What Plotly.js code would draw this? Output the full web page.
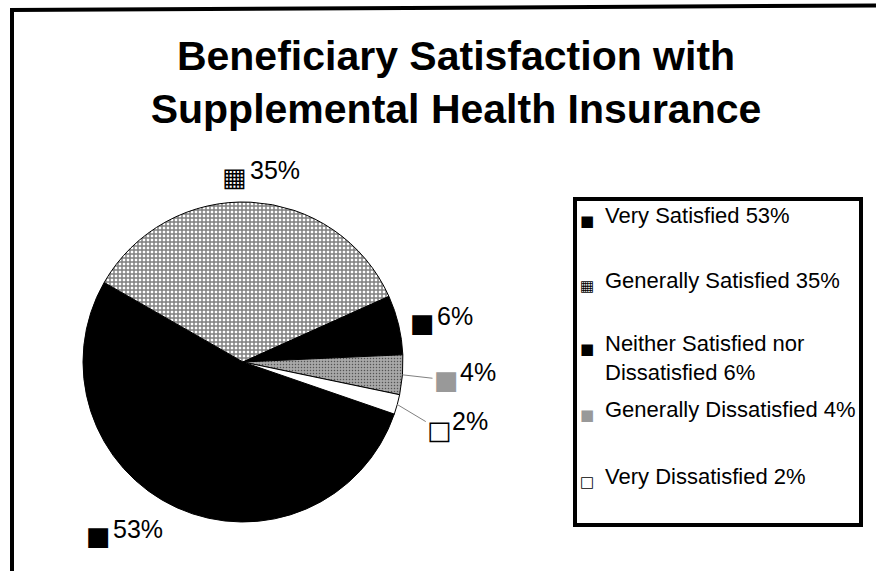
<!DOCTYPE html>
<html><head><meta charset="utf-8">
<script src="https://cdn.plot.ly/plotly-3.0.1.min.js"></script>
<style>html,body{margin:0;padding:0;background:#fff}#chart{width:876px;height:571px}</style>
</head><body><div id="chart"></div>
<script>
// ---- data ----
const categories = ['Very Satisfied', 'Generally Satisfied', 'Neither Satisfied nor Dissatisfied', 'Generally Dissatisfied', 'Very Dissatisfied'];
const values = [53, 35, 6, 4, 2];
const legendText = ['Very Satisfied 53%', 'Generally Satisfied 35%', 'Neither Satisfied nor<br>Dissatisfied 6%', 'Generally Dissatisfied 4%', 'Very Dissatisfied 2%'];
const keySymbols = ['\u25A0', '\u25A6', '\u25A0', '\u25A0', '\u25A1'];
const keyColors = ['#000000', '#000000', '#000000', '#999999', '#000000'];

// ---- styling / geometry ----
const W = 876, H = 571;
const CX = 243, CY = 362, R = 160;
const ROT = 109;
const FONT = '"Liberation Sans", Arial, sans-serif';
const SYMFONT = '"DejaVu Sans", sans-serif';
const sliceColors = ['#000000', '#ffffff', '#000000', '#a8a8a8', '#ffffff'];
const patternShapes = ['', '+', '', '.', ''];
// per-label: [symbol dx, symbol dy, text-left dx, baseline dy] relative to slice edge mid point
const labelPlace = [[-78, 28.5, -64, 29], [-16, -25, -1, -24], [24, -1.5, 38, -1], [44, 5, 57.5, 5], [42.5, 25.5, 55, 24.5]];
const leader = [false, false, false, true, true];
const LBL = 25, LSYM = 26, TXT = 22, TSYM = 15;
const legTextX = 605, legSymX = 587;
const legBase = [222, 287, 350, 416, 483];

const total = values.reduce((a, b) => a + b, 0);
let start = ROT; const mids = [];
values.forEach(v => { const span = v / total * 360; mids.push(start + span / 2); start += span; });

const annotations = [];
mids.forEach((a, i) => {
  const rad = a * Math.PI / 180;
  const px = CX + R * Math.sin(rad), py = CY - R * Math.cos(rad);
  const p = labelPlace[i];
  const sym = {xref: 'paper', yref: 'paper', x: px / W, y: 1 - py / H, xanchor: 'center', yanchor: 'middle',
    text: keySymbols[i], font: {family: SYMFONT, size: LSYM, color: keyColors[i]}};
  if (leader[i]) {
    Object.assign(sym, {showarrow: true, arrowhead: 0, arrowwidth: 1, arrowcolor: '#808080',
      ax: p[0], ay: p[1], standoff: 0});
  } else {
    Object.assign(sym, {showarrow: false, xshift: p[0], yshift: -p[1]});
  }
  annotations.push(sym);
  annotations.push({xref: 'paper', yref: 'paper', x: (px + p[2] - 2) / W, y: 1 - (py + p[3] - 0.35 * LBL + 1) / H,
    xanchor: 'left', yanchor: 'middle', showarrow: false, text: values[i] + '%',
    font: {family: FONT, size: LBL, color: '#000'}});
});

legendText.forEach((t, i) => {
  const nl = (t.match(/<br>/g) || []).length;
  const cyText = legBase[i] - 0.35 * TXT + 1 + nl * TXT * 1.3 / 2;
  annotations.push({xref: 'paper', yref: 'paper', x: (legTextX - 2) / W, y: 1 - cyText / H,
    xanchor: 'left', yanchor: 'middle', align: 'left', showarrow: false, text: t,
    font: {family: FONT, size: TXT, color: '#000'}});
  annotations.push({xref: 'paper', yref: 'paper', x: legSymX / W, y: 1 - (legBase[i] - 1) / H,
    xanchor: 'center', yanchor: 'middle', showarrow: false, text: keySymbols[i],
    font: {family: SYMFONT, size: TSYM, color: keyColors[i]}});
});

const trace = {
  type: 'pie', labels: categories, values: values, sort: false,
  direction: 'clockwise', rotation: ROT, textinfo: 'none', hoverinfo: 'label+percent',
  domain: {x: [(CX - R) / W, (CX + R) / W], y: [1 - (CY + R) / H, 1 - (CY - R) / H]},
  marker: {colors: sliceColors, line: {color: '#000', width: 1},
    pattern: {shape: patternShapes, fgcolor: '#000', fillmode: 'overlay', size: [4, 4, 4, 3, 4], solidity: [0.6, 0.6, 0.6, 0.2, 0.6]}}
};

const layout = {
  width: W, height: H, margin: {l: 0, r: 0, t: 0, b: 0},
  paper_bgcolor: '#fff', showlegend: false,
  title: {text: 'Beneficiary Satisfaction with<br>Supplemental Health Insurance',
    x: 456 / W, xanchor: 'center', xref: 'container', y: 1 - 69.5 / H, yref: 'container', yanchor: 'middle',
    font: {family: FONT, size: 41, color: '#000', weight: 'bold'}},
  annotations: annotations,
  shapes: [
    {type: 'line', xref: 'paper', yref: 'paper', x0: 12 / W, x1: 12 / W, y0: 1 - 8 / H, y1: -0.05, line: {color: '#000', width: 4}},
    {type: 'line', xref: 'paper', yref: 'paper', x0: 10 / W, x1: 1, y0: 1 - 10 / H, y1: 1 - 5.5 / H, line: {color: '#000', width: 4}},
    {type: 'rect', xref: 'paper', yref: 'paper', x0: 575 / W, x1: 861 / W, y0: 1 - 199 / H, y1: 1 - 525 / H, line: {color: '#000', width: 4}}
  ]
};

Plotly.newPlot('chart', [trace], layout, {displayModeBar: false, staticPlot: true});
</script></body></html>
